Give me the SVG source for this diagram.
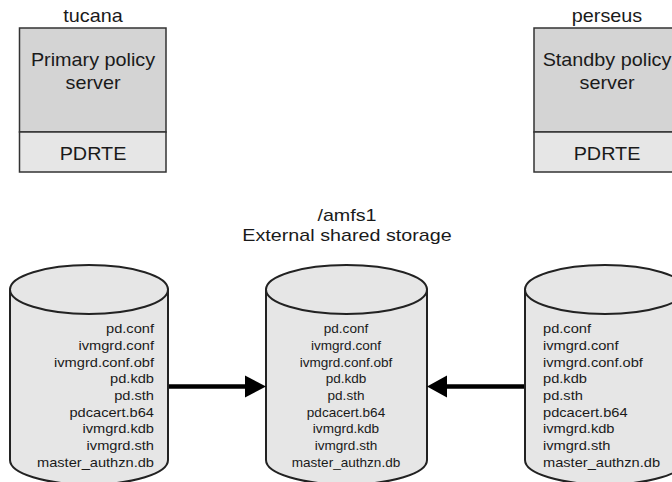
<svg xmlns="http://www.w3.org/2000/svg" width="672" height="482" viewBox="0 0 672 482">
<style>
text{font-family:"Liberation Sans",Arial,sans-serif;fill:#1a1a1a}
.big{font-size:18px;text-anchor:middle}
.hd{font-size:17px;text-anchor:middle}
.sm{font-size:13.3px}
.top{fill:#d4d4d4;stroke:#333;stroke-width:1.5}
.bot{fill:#e6e6e6;stroke:#333;stroke-width:1.5}
.cyl{fill:#e6e6e6;stroke:#222;stroke-width:2}
.shaft{stroke:#000;stroke-width:4.5;fill:none}
</style>
<rect width="672" height="482" fill="#fff"/>
<g id="primary">
<text class="big" transform="translate(93,21.5) scale(1.1,1)">tucana</text>
<rect class="top" x="19.5" y="28" width="146.5" height="104"/>
<rect class="bot" x="19.5" y="132" width="146.5" height="40"/>
<text class="big" transform="translate(93,65.5) scale(1.1,1)">Primary policy</text>
<text class="big" transform="translate(93,88.5) scale(1.1,1)">server</text>
<text class="big" transform="translate(93,159.5) scale(1.1,1)">PDRTE</text>
</g>
<g id="standby">
<text class="big" transform="translate(607,21.5) scale(1.1,1)">perseus</text>
<rect class="top" x="534" y="28" width="146.5" height="104"/>
<rect class="bot" x="534" y="132" width="146.5" height="40"/>
<text class="big" transform="translate(607,65.5) scale(1.1,1)">Standby policy</text>
<text class="big" transform="translate(607,88.5) scale(1.1,1)">server</text>
<text class="big" transform="translate(607,159.5) scale(1.1,1)">PDRTE</text>
</g>
<g id="storage-left">
<path class="cyl" d="M10,289.5 L10,460 A79,24.5 0 0 0 168,460 L168,289.5 Z"/>
<ellipse class="cyl" cx="89" cy="289.5" rx="79" ry="24.5"/>
<g class="sm" text-anchor="end">
<text transform="translate(154,333.3) scale(1.1,1)">pd.conf</text>
<text transform="translate(154,350) scale(1.1,1)">ivmgrd.conf</text>
<text transform="translate(154,366.7) scale(1.1,1)">ivmgrd.conf.obf</text>
<text transform="translate(154,383.3) scale(1.1,1)">pd.kdb</text>
<text transform="translate(154,400) scale(1.1,1)">pd.sth</text>
<text transform="translate(154,416.7) scale(1.1,1)">pdcacert.b64</text>
<text transform="translate(154,433.3) scale(1.1,1)">ivmgrd.kdb</text>
<text transform="translate(154,450) scale(1.1,1)">ivmgrd.sth</text>
<text transform="translate(154,466.7) scale(1.1,1)">master_authzn.db</text>
</g>
</g>
<g id="storage-shared">
<text class="hd" transform="translate(347,220.5) scale(1.16,1)">/amfs1</text>
<text class="hd" transform="translate(347,240.5) scale(1.16,1)">External shared storage</text>
<path class="cyl" d="M266,289.5 L266,460 A80.5,24.5 0 0 0 427,460 L427,289.5 Z"/>
<ellipse class="cyl" cx="346.5" cy="289.5" rx="80.5" ry="24.5"/>
<g class="sm" text-anchor="middle">
<text transform="translate(346,333.3) scale(1.02,1)">pd.conf</text>
<text transform="translate(346,350) scale(1.02,1)">ivmgrd.conf</text>
<text transform="translate(346,366.7) scale(1.02,1)">ivmgrd.conf.obf</text>
<text transform="translate(346,383.3) scale(1.02,1)">pd.kdb</text>
<text transform="translate(346,400) scale(1.02,1)">pd.sth</text>
<text transform="translate(346,416.7) scale(1.02,1)">pdcacert.b64</text>
<text transform="translate(346,433.3) scale(1.02,1)">ivmgrd.kdb</text>
<text transform="translate(346,450) scale(1.02,1)">ivmgrd.sth</text>
<text transform="translate(346,466.7) scale(1.02,1)">master_authzn.db</text>
</g>
</g>
<g id="storage-right">
<path class="cyl" d="M525,289.5 L525,460 A80,24.5 0 0 0 685,460 L685,289.5 Z"/>
<ellipse class="cyl" cx="605" cy="289.5" rx="80" ry="24.5"/>
<g class="sm" text-anchor="start">
<text transform="translate(543,333.3) scale(1.1,1)">pd.conf</text>
<text transform="translate(543,350) scale(1.1,1)">ivmgrd.conf</text>
<text transform="translate(543,366.7) scale(1.1,1)">ivmgrd.conf.obf</text>
<text transform="translate(543,383.3) scale(1.1,1)">pd.kdb</text>
<text transform="translate(543,400) scale(1.1,1)">pd.sth</text>
<text transform="translate(543,416.7) scale(1.1,1)">pdcacert.b64</text>
<text transform="translate(543,433.3) scale(1.1,1)">ivmgrd.kdb</text>
<text transform="translate(543,450) scale(1.1,1)">ivmgrd.sth</text>
<text transform="translate(543,466.7) scale(1.1,1)">master_authzn.db</text>
</g>
</g>
<g id="connectors">
<line class="shaft" x1="169" y1="386.5" x2="247" y2="386.5"/>
<polygon points="245,375.5 266,386.5 245,397.5" fill="#000"/>
<line class="shaft" x1="524" y1="386.5" x2="446" y2="386.5"/>
<polygon points="447,375.5 427,386.5 447,397.5" fill="#000"/>
</g>
</svg>
